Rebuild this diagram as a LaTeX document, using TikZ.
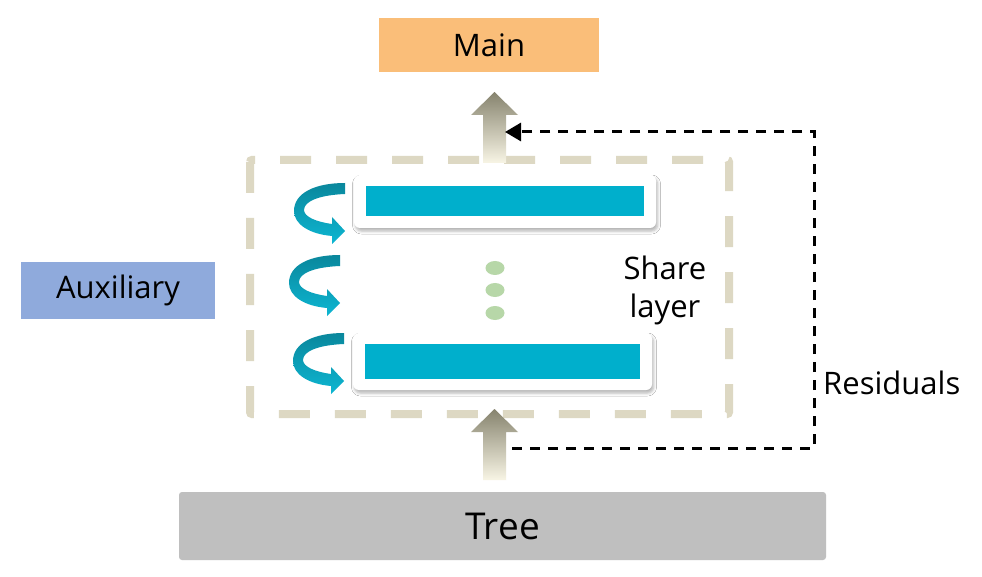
\documentclass[tikz,border=0pt]{standalone}
\usepackage{fontspec}
\setmainfont{Open Sans}
\usetikzlibrary{arrows.meta,shadows.blur,shapes.geometric}
\definecolor{mainc}{HTML}{FABE79}
\definecolor{auxc}{HTML}{8FAADC}
\definecolor{treec}{HTML}{BFBFBF}
\definecolor{barc}{HTML}{00AFCC}
\definecolor{dotc}{HTML}{B7D7A8}
\definecolor{framec}{HTML}{DDD8C3}
\definecolor{curldark}{HTML}{0A879C}
\definecolor{curllight}{HTML}{0DB6D2}
\definecolor{arrdark}{HTML}{86836E}
\definecolor{arrlight}{HTML}{F8F5E5}
\tikzset{
  labelbox/.style={inner sep=0pt, font=\fontsize{31}{36}\selectfont, text=black},
  card/.style={fill=white, rounded corners=6pt, inner sep=0pt,
    blur shadow={shadow xshift=1.5pt, shadow yshift=-3pt, shadow blur radius=3pt, shadow opacity=30}},
  bar/.style={fill=barc, inner sep=0pt},
  dotnode/.style={fill=dotc, ellipse, inner sep=0pt, minimum width=19pt, minimum height=14pt},
  curl/.pic={
    \shade[top color=curldark, bottom color=curllight]
      (0,0) -- (0,11) .. controls (-25,12) and (-41,18) .. (-41,27)
      .. controls (-41,34) and (-28,39) .. (-13,41)
      -- (-13,34) -- (0,48) -- (-13,61) -- (-13,53)
      .. controls (-36,51) and (-51,41) .. (-51,28)
      .. controls (-51,10) and (-30,0) .. (0,0) -- cycle;
  },
  uparrowstyle/.style={top color=arrdark, bottom color=arrlight},
  resid/.style={draw=black, line width=3pt, dash pattern=on 10pt off 8pt, -{Triangle[length=16pt,width=18pt]}},
}
\begin{document}
\begin{tikzpicture}[x=1pt,y=-1pt]
\useasboundingbox (0,0) rectangle (982,577);
\fill[white] (0,0) rectangle (982,577);

% boxes
\node[labelbox, fill=mainc, minimum width=220pt, minimum height=54pt] (main) at (489,45) {Main};
\node[labelbox, fill=auxc, minimum width=194pt, minimum height=57pt] (aux) at (118,290.5) {Auxiliary};
\node[labelbox, fill=treec, rounded corners=3pt, minimum width=647pt, minimum height=68pt,
      font=\fontsize{37}{42}\selectfont] (tree) at (502.5,526) {Tree};

% share frame
\draw[framec, line width=8pt, dash pattern=on 31pt off 25pt, rounded corners=2pt]
  (250,160) rectangle (729,414);

% cards
\node[card, minimum width=302pt, minimum height=53pt] (card1) at (505,201.5) {};
\node[bar, minimum width=278pt, minimum height=30pt] (bar1) at (505,201) {};
\node[card, minimum width=299pt, minimum height=57pt] (card2) at (502.5,361.5) {};
\node[bar, minimum width=275pt, minimum height=35pt] (bar2) at (502.5,361.5) {};

% dots
\node[dotnode] (d1) at (495,268) {};
\node[dotnode] (d2) at (495,290) {};
\node[dotnode] (d3) at (495,313) {};

% curls
\pic at (345,183) {curl};
\pic at (340,255) {curl};
\pic at (344,333) {curl};

% share layer text
\node[labelbox, align=center, font=\fontsize{31}{38}\selectfont] (share) at (665,290) {Share\\layer};

% up arrows
\shade[uparrowstyle] (494.5,92) -- (518,115) -- (506,115) -- (506,163) -- (483,163) -- (483,115) -- (471,115) -- cycle;
\shade[uparrowstyle] (494.5,409) -- (518,432) -- (506,432) -- (506,480) -- (483,480) -- (483,432) -- (471,432) -- cycle;

% residual connector
\coordinate (rs) at (512,448);
\coordinate (rc) at (814,132);
\coordinate (re) at (505,132);
\draw[resid] (rs) -| (rc) -- (re);
\node[labelbox, anchor=west] (res) at (823,383) {Residuals};
\end{tikzpicture}
\end{document}
